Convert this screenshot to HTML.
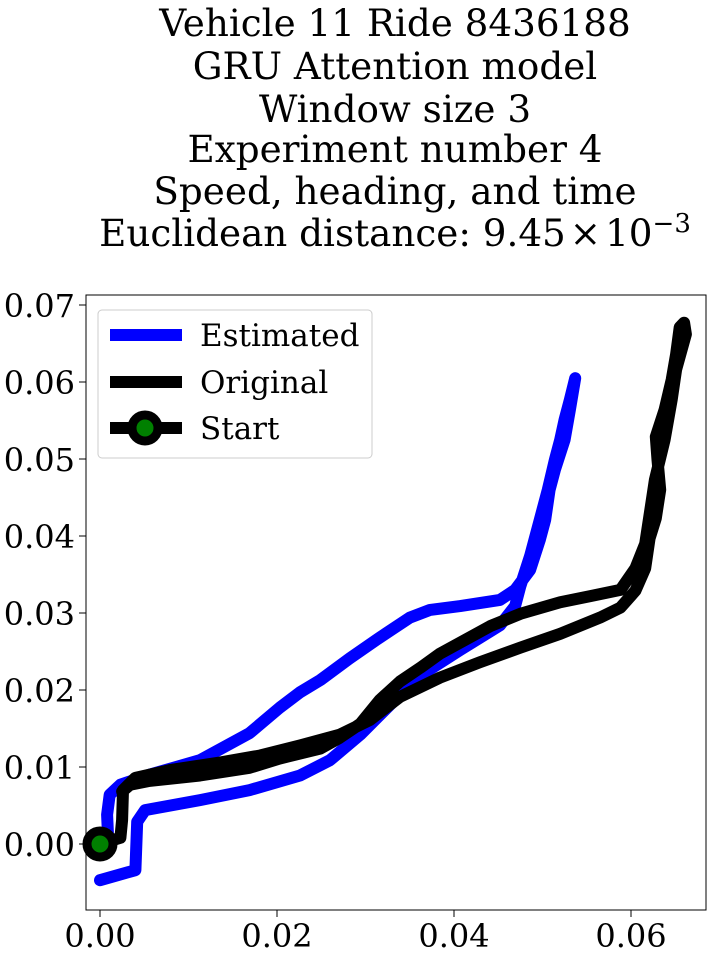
<!DOCTYPE html>
<html><head><meta charset="utf-8"><style>
html,body{margin:0;padding:0;background:#fff;}
svg text{font-family:"DejaVu Serif","Liberation Serif",serif;fill:#000;}
</style></head><body>
<svg id="chart" width="712" height="957" xmlns="http://www.w3.org/2000/svg">
<g font-size="37.3" text-anchor="middle">
<text x="395" y="36">Vehicle 11 Ride 8436188</text>
<text x="395" y="79">GRU Attention model</text>
<text x="395" y="122">Window size 3</text>
<text x="395" y="162">Experiment number 4</text>
<text x="395" y="204">Speed, heading, and time</text>
<text x="395" y="246">Euclidean distance: 9.45<tspan dx="4">×</tspan><tspan dx="4">10</tspan><tspan dy="-14" font-size="26">−3</tspan></text>
</g>
<rect x="86" y="295" width="620" height="615" fill="none" stroke="#000" stroke-width="1"/>
<g id="xticks"></g>
<g id="yticks"></g>
<g id="series"></g>
<g>
<rect x="98" y="310" width="274" height="148" rx="4" fill="#fff" stroke="#ccc"/>
<line x1="110" y1="335" x2="182" y2="335" stroke="#00f" stroke-width="12"/>
<text x="200" y="346" font-size="31">Estimated</text>
<line x1="110" y1="382" x2="182" y2="382" stroke="#000" stroke-width="12"/>
<text x="200" y="393" font-size="31">Original</text>
<line x1="110" y1="428" x2="182" y2="428" stroke="#000" stroke-width="12"/>
<circle cx="145" cy="428" r="13" fill="#008000" stroke="#000" stroke-width="9"/>
<text x="200" y="439" font-size="31">Start</text>
</g>
</svg>
<script>
const xTicks=[0,0.02,0.04,0.06];
const xTickLabels=["0.00","0.02","0.04","0.06"];
const yTicks=[0,0.01,0.02,0.03,0.04,0.05,0.06,0.07];
const yTickLabels=["0.00","0.01","0.02","0.03","0.04","0.05","0.06","0.07"];
const estX=[0,0.0040,0.0042,0.0051,0.0113,0.0169,0.0226,0.0260,0.0294,0.0328,0.0362,0.0407,0.0452,0.0469,0.0475,0.0486,0.0497,0.0506,0.0514,0.0520,0.0525,0.0531,0.0537,0.0531,0.0525,0.0514,0.0508,0.0503,0.0497,0.0486,0.0469,0.0452,0.0407,0.0373,0.0350,0.0316,0.0282,0.0249,0.0226,0.0203,0.0169,0.0113,0.0056,0.0023,0.0011,0.0008,0.0009];
const estY=[-0.0047,-0.0034,0.0029,0.0044,0.0057,0.0070,0.0089,0.0109,0.0142,0.0181,0.0219,0.0252,0.0284,0.0309,0.0335,0.0374,0.0421,0.0460,0.0499,0.0525,0.0551,0.0577,0.0605,0.0564,0.0525,0.0486,0.0460,0.0421,0.0395,0.0356,0.0330,0.0317,0.0309,0.0304,0.0294,0.0268,0.0241,0.0213,0.0197,0.0177,0.0144,0.0109,0.0090,0.0077,0.0064,0.0038,0.0012];
const origX=[0,0.0023,0.0025,0.0026,0.0040,0.0079,0.0136,0.0181,0.0226,0.0271,0.0305,0.0339,0.0384,0.0429,0.0475,0.0520,0.0565,0.0588,0.0605,0.0616,0.0621,0.0628,0.0633,0.0630,0.0628,0.0638,0.0646,0.0651,0.0655,0.0660,0.0662,0.0651,0.0646,0.0638,0.0627,0.0616,0.0605,0.0588,0.0554,0.0520,0.0475,0.0441,0.0384,0.0362,0.0339,0.0316,0.0294,0.0271,0.0249,0.0203,0.0169,0.0113,0.0056,0.0034,0.0025];
const origY=[0,0.0008,0.0031,0.0070,0.0086,0.0096,0.0106,0.0115,0.0128,0.0142,0.0161,0.0191,0.0216,0.0236,0.0255,0.0273,0.0294,0.0307,0.0329,0.0358,0.0397,0.0423,0.0460,0.0499,0.0529,0.0564,0.0603,0.0636,0.0671,0.0677,0.0662,0.0616,0.0577,0.0525,0.0473,0.0390,0.0358,0.0330,0.0322,0.0314,0.0299,0.0283,0.0247,0.0229,0.0211,0.0187,0.0156,0.0138,0.0124,0.0111,0.0099,0.0089,0.0082,0.0077,0.0068];
const startX=[0], startY=[0];
const sx=v=>100+v*8850, sy=v=>844-v*7700;
const NS="http://www.w3.org/2000/svg";
function mk(tag,attrs,parent){const e=document.createElementNS(NS,tag);for(const k in attrs)e.setAttribute(k,attrs[k]);parent.appendChild(e);return e;}
const xg=document.getElementById('xticks'),yg=document.getElementById('yticks'),sg=document.getElementById('series');
xTicks.forEach((t,i)=>{
 const l=mk('line',{x1:sx(t),x2:sx(t),y1:910,y2:917,stroke:'#000'},xg);
 
 
 const tx=mk('text',{x:sx(t),y:947,'font-size':32,'text-anchor':'middle'},xg);tx.textContent=xTickLabels[i];
 
 
});
yTicks.forEach((t,i)=>{
 const l=mk('line',{x1:79,x2:86,y1:sy(t),y2:sy(t),stroke:'#000'},yg);
 
 
 const tx=mk('text',{x:75,y:sy(t)+12,'font-size':32,'text-anchor':'end'},yg);tx.textContent=yTickLabels[i];
 
 
});
function pathOf(X,Y){return X.map((x,i)=>(i?'L':'M')+sx(x).toFixed(1)+' '+sy(Y[i]).toFixed(1)).join(' ');}
const pe=mk('path',{d:pathOf(estX,estY),fill:'none',stroke:'#00f','stroke-width':12,'stroke-linejoin':'round','stroke-linecap':'round'},sg);


const po=mk('path',{d:pathOf(origX,origY),fill:'none',stroke:'#000','stroke-width':12,'stroke-linejoin':'round','stroke-linecap':'round'},sg);


const st=mk('circle',{cx:sx(startX[0]),cy:sy(startY[0]),r:13,fill:'#008000',stroke:'#000','stroke-width':9},sg);


</script>
</body></html>
